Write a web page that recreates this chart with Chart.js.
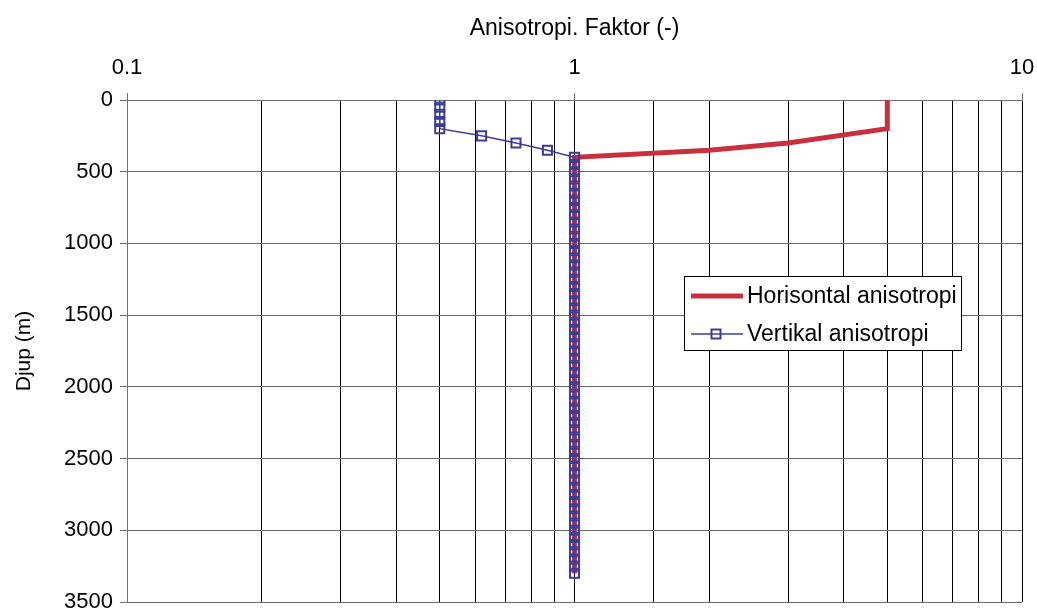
<!DOCTYPE html>
<html>
<head>
<meta charset="utf-8">
<title>Anisotropi</title>
<script src="https://cdn.jsdelivr.net/npm/chart.js@4.4.1/dist/chart.umd.min.js"></script>
<style>
	html, body { margin: 0; padding: 0; background: #ffffff; }
	#myChart { display: block; }
</style>
</head>
<body>
<canvas id="myChart" width="1037" height="612"></canvas>
<script>
// 축 제목
var xTitle = "Anisotropi. Faktor (-)";
var yTitle = "Djup (m)";

// x축 눈금 (로그), y축 눈금 (깊이)
var xTickLabels = [0.1, 1, 10];
var yTickLabels = [0, 500, 1000, 1500, 2000, 2500, 3000, 3500];

// 수평 이방성 (깊이, 계수)
var horDepth = [0, 200, 300, 350, 400, 3300];
var horFactor = [5, 5, 3, 2, 1, 1];

// 수직 이방성 (깊이, 계수)
var verDepth = [0, 50, 100, 150, 200, 250, 300, 350, 400, 450,
	500, 550, 600, 650, 700, 750, 800, 850, 900, 950,
	1000, 1050, 1100, 1150, 1200, 1250, 1300, 1350, 1400, 1450,
	1500, 1550, 1600, 1650, 1700, 1750, 1800, 1850, 1900, 1950,
	2000, 2050, 2100, 2150, 2200, 2250, 2300, 2350, 2400, 2450,
	2500, 2550, 2600, 2650, 2700, 2750, 2800, 2850, 2900, 2950,
	3000, 3050, 3100, 3150, 3200, 3250, 3300];
var verFactor = [0.5, 0.5, 0.5, 0.5, 0.5, 0.62, 0.74, 0.87, 1, 1,
	1, 1, 1, 1, 1, 1, 1, 1, 1, 1,
	1, 1, 1, 1, 1, 1, 1, 1, 1, 1,
	1, 1, 1, 1, 1, 1, 1, 1, 1, 1,
	1, 1, 1, 1, 1, 1, 1, 1, 1, 1,
	1, 1, 1, 1, 1, 1, 1, 1, 1, 1,
	1, 1, 1, 1, 1, 1, 1];

var seriesLabels = ["Horisontal anisotropi", "Vertikal anisotropi"];
var seriesColors = ["#c8303e", "#3d3d98"];

var fontName = "'Liberation Sans', Arial, sans-serif";

// 두 배열을 점 목록으로 변환
function toPoints(factors, depths) {
	return depths.map(function(d, i) {
		return { x: factors[i], y: d };
	});
}

// 10의 거듭제곱인지 확인
function isDecade(v) {
	var l = Math.log10(v);
	return Math.abs(l - Math.round(l)) < 1e-9;
}

// 축 여백 제거 (차트 영역 고정용)
function noScalePadding(scale) {
	scale.paddingLeft = 0;
	scale.paddingRight = 0;
	scale.paddingTop = 0;
	scale.paddingBottom = 0;
}

// 차트 안쪽 범례 그리기
var innerLegend = {
	id: "innerLegend",
	afterDraw: function(chart) {
		var ctx = chart.ctx;
		var ds = chart.data.datasets;
		var box = { x: 684.5, y: 276.5, w: 277, h: 74 };

		ctx.save();
		ctx.fillStyle = "#ffffff";
		ctx.fillRect(box.x, box.y, box.w, box.h);
		ctx.strokeStyle = "#000000";
		ctx.lineWidth = 1;
		ctx.strokeRect(box.x, box.y, box.w, box.h);

		ctx.font = "23px " + fontName;
		ctx.textBaseline = "middle";
		ctx.textAlign = "left";

		var rows = [296, 334];
		for (var i = 0; i < ds.length; i++) {
			var y = rows[i];
			ctx.strokeStyle = ds[i].borderColor;
			ctx.lineWidth = ds[i].borderWidth;
			ctx.beginPath();
			ctx.moveTo(691, y);
			ctx.lineTo(743, y);
			ctx.stroke();
			if (ds[i].pointRadius > 0) {
				ctx.lineWidth = ds[i].pointBorderWidth;
				ctx.strokeRect(716 - 4.5, y - 4.5, 9, 9);
			}
			ctx.fillStyle = "#000000";
			ctx.fillText(ds[i].label, 747, y + 1);
		}
		ctx.restore();
	}
};

var ctx = document.getElementById("myChart").getContext("2d");

window.myChart = new Chart(ctx, {
	type: "scatter",
	data: {
		datasets: [{
			label: seriesLabels[0],
			data: toPoints(horFactor, horDepth),
			showLine: true,
			borderColor: seriesColors[0],
			backgroundColor: seriesColors[0],
			borderWidth: 5,
			pointRadius: 0,
			pointHoverRadius: 0,
			order: 2
		}, {
			label: seriesLabels[1],
			data: toPoints(verFactor, verDepth),
			showLine: true,
			borderColor: seriesColors[1],
			backgroundColor: "rgba(0,0,0,0)",
			borderWidth: 1.5,
			pointStyle: "rect",
			pointRadius: 6.4,
			pointHoverRadius: 6.4,
			pointBorderWidth: 2,
			pointBorderColor: seriesColors[1],
			pointBackgroundColor: "rgba(0,0,0,0)",
			order: 1
		}]
	},
	options: {
		responsive: false,
		animation: false,
		devicePixelRatio: 1,
		layout: { padding: { left: 0, right: 15, top: 0, bottom: 10 } },
		plugins: {
			legend: { display: false },
			tooltip: { enabled: false }
		},
		scales: {
			x: {
				type: "logarithmic",
				position: "top",
				min: xTickLabels[0],
				max: xTickLabels[xTickLabels.length - 1],
				afterFit: function(scale) {
					scale.height = 100;
					noScalePadding(scale);
				},
				title: {
					display: true,
					text: xTitle,
					color: "#000000",
					font: { family: fontName, size: 23 },
					padding: { top: 15, bottom: 0 }
				},
				border: { color: "#707070", width: 1 },
				grid: {
					color: "#000000",
					lineWidth: 1,
					tickLength: 7,
					tickColor: function(c) {
						return c.tick && isDecade(c.tick.value) ? "#707070" : "rgba(0,0,0,0)";
					}
				},
				ticks: {
					autoSkip: false,
					maxRotation: 0,
					padding: 12,
					color: "#000000",
					font: { family: fontName, size: 22 },
					callback: function(value) {
						if (!isDecade(value)) return "";
						for (var i = 0; i < xTickLabels.length; i++) {
							if (Math.abs(xTickLabels[i] - value) < 1e-9) return String(xTickLabels[i]);
						}
						return "";
					}
				}
			},
			y: {
				type: "linear",
				position: "left",
				reverse: true,
				min: yTickLabels[0],
				max: yTickLabels[yTickLabels.length - 1],
				afterFit: function(scale) {
					scale.width = 127;
					noScalePadding(scale);
				},
				afterBuildTicks: function(scale) {
					scale.ticks = yTickLabels.map(function(v) { return { value: v }; });
				},
				title: {
					display: true,
					text: yTitle,
					color: "#000000",
					font: { family: fontName, size: 21 },
					padding: { top: 12, bottom: 0 }
				},
				border: { color: "#707070", width: 1 },
				grid: {
					color: "#6a6a6a",
					lineWidth: 1,
					tickLength: 7,
					tickColor: "#707070"
				},
				ticks: {
					padding: 7,
					color: "#000000",
					font: { family: fontName, size: 22 },
					callback: function(value) { return String(value); }
				}
			}
		}
	},
	plugins: [innerLegend]
});
</script>
</body>
</html>
